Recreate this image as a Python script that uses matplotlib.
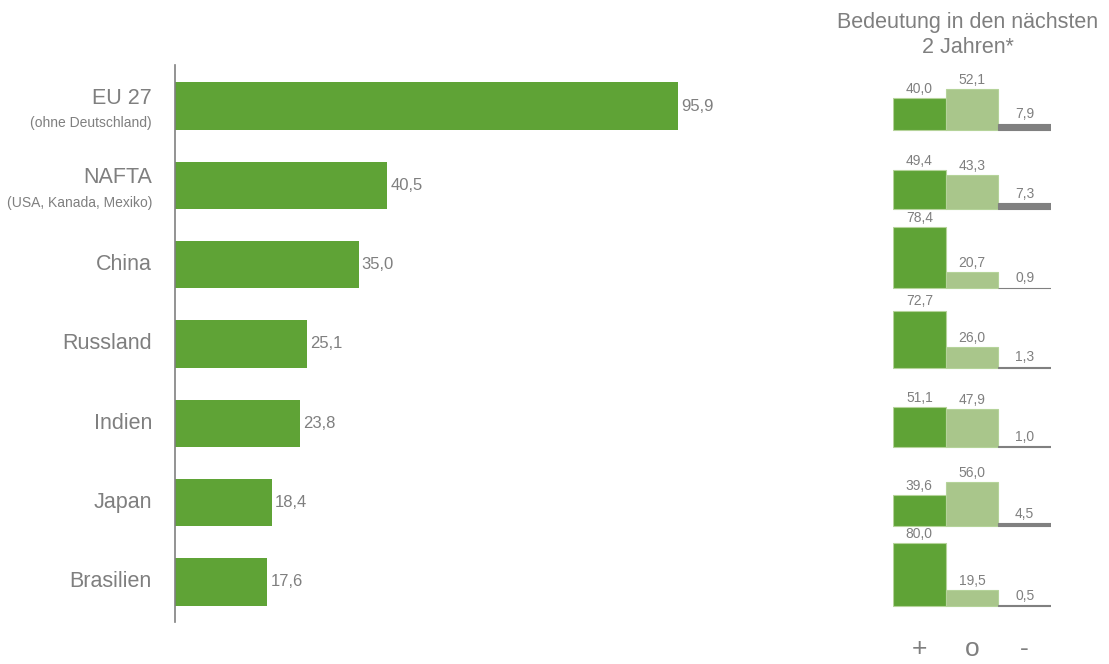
import matplotlib
matplotlib.use('Agg')
from matplotlib import pyplot as plt

plt.rcParams['font.family'] = ['Liberation Sans', 'DejaVu Sans']

# regions and their share today
regions = ['EU 27', 'NAFTA', 'China', 'Russland', 'Indien', 'Japan', 'Brasilien']
region_notes = ['(ohne Deutschland)', '(USA, Kanada, Mexiko)', '', '', '', '', '']
share_today = [95.9, 40.5, 35.0, 25.1, 23.8, 18.4, 17.6]

# expected importance in the next two years: +, o, -
importance_plus = [40.0, 49.4, 78.4, 72.7, 51.1, 39.6, 80.0]
importance_same = [52.1, 43.3, 20.7, 26.0, 47.9, 56.0, 19.5]
importance_minus = [7.9, 7.3, 0.9, 1.3, 1.0, 4.5, 0.5]
importance_symbols = ['+', 'o', '-']

GREEN = '#5fa336'
LIGHT_GREEN = '#a9c68b'
DARK_GREY = '#808080'
TEXT_GREY = '#7f7f7f'

W, H = 1109, 664
fig = plt.figure(figsize=(W / 100, H / 100), dpi=100)

# main bars
ax = fig.add_axes([175 / W, 42 / H, 524.5 / W, 557 / H])
ypos = list(range(len(regions)))
ax.barh(ypos, share_today, height=0.6, color=GREEN)
ax.set_xlim(0, 100)
ax.set_ylim(6.505, -0.517)
for s in ['top', 'right', 'bottom']:
    ax.spines[s].set_visible(False)
ax.spines['left'].set_color(DARK_GREY)
ax.spines['left'].set_linewidth(1.2)
ax.set_xticks([])
ax.set_yticks([])

for y, name, note, v in zip(ypos, regions, region_notes, share_today):
    if note:
        ax.text(-4.4, y - 0.1, name, ha='right', va='center', fontsize=15.5,
                color=TEXT_GREY, clip_on=False)
        ax.text(-4.4, y + 0.22, note, ha='right', va='center', fontsize=10,
                color=TEXT_GREY, clip_on=False)
    else:
        ax.text(-4.4, y, name, ha='right', va='center', fontsize=15.5,
                color=TEXT_GREY, clip_on=False)
    ax.text(v + 0.6, y, f'{v:.1f}'.replace('.', ','), ha='left', va='center',
            fontsize=12, color=TEXT_GREY)

# small importance charts, one per region, sharing the main y scale
ax2 = fig.add_axes([893 / W, 42 / H, 158 / W, 557 / H])
ax2.set_xlim(0, 3)
ax2.set_ylim(6.505, -0.517)
ax2.axis('off')
scale = 0.0099
for y, vals in zip(ypos, zip(importance_plus, importance_same, importance_minus)):
    base = y + 0.3
    for j, (v, c) in enumerate(zip(vals, [GREEN, LIGHT_GREEN, DARK_GREY])):
        h = v * scale
        edge = '#b5d39a' if j < 2 else DARK_GREY
        ax2.bar(j + 0.5, h, width=1.0, bottom=base - h, color=c,
                edgecolor=edge, linewidth=0.8)
        ax2.text(j + 0.5, base - h - 0.03, f'{v:.1f}'.replace('.', ','),
                 ha='center', va='bottom', fontsize=10, color=TEXT_GREY)

for j, sym in enumerate(importance_symbols):
    ax2.text(j + 0.5, 6.84, sym, ha='center', va='center', fontsize=19,
             color=TEXT_GREY, clip_on=False)

fig.text(968 / W, 1 - 35 / H, 'Bedeutung in den nächsten\n2 Jahren*',
         ha='center', va='center', fontsize=15.5, color=TEXT_GREY)

fig.savefig('out.png', dpi=100)
